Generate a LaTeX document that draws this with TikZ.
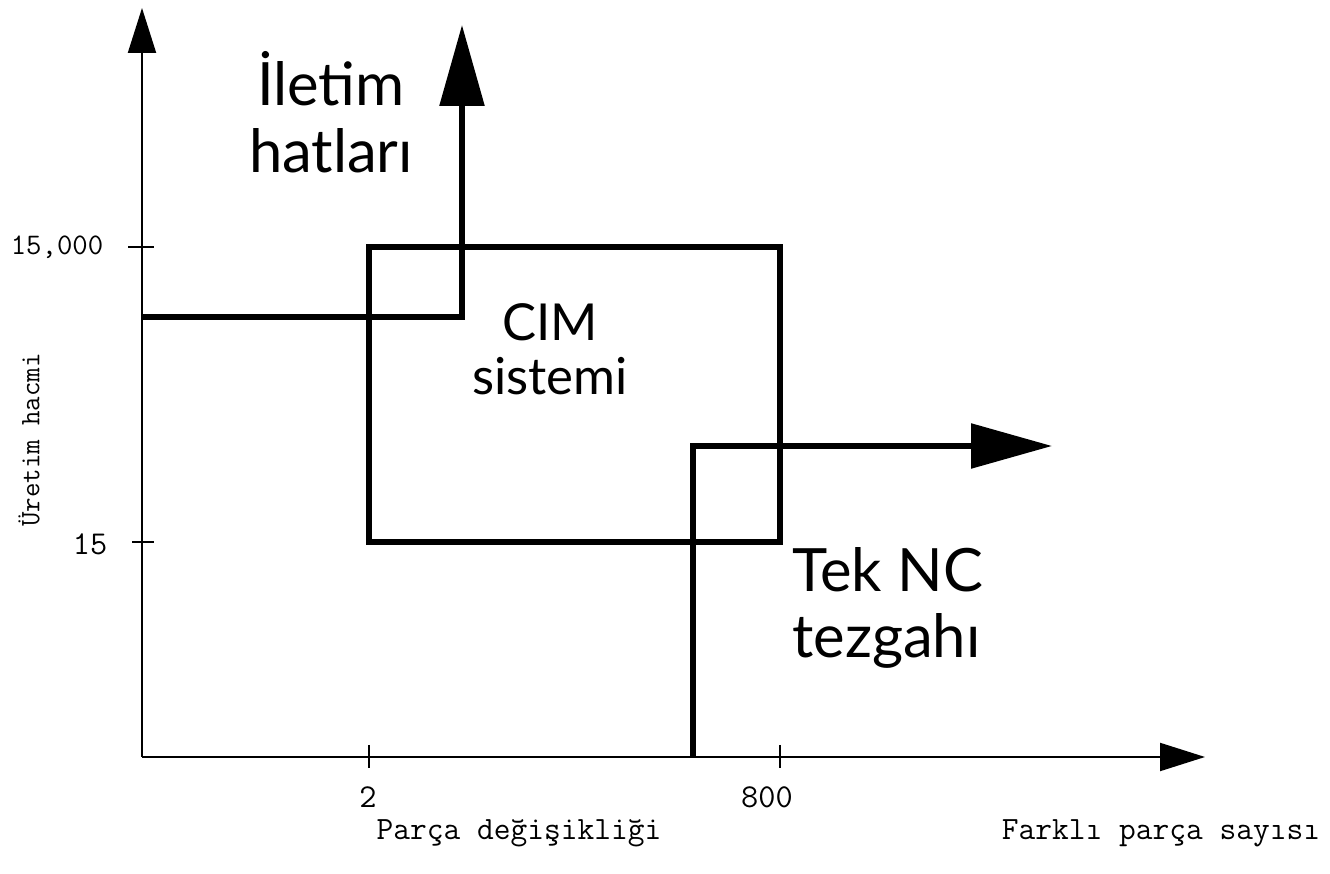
\documentclass[tikz,border=0pt]{standalone}
\usepackage{fontspec}
\newfontfamily\handfont{Lato}
\usetikzlibrary{arrows.meta}

\begin{document}
\begin{tikzpicture}[x=0.02cm, y=-0.02cm,
  axis/.style={line width=1.2pt, -{Triangle[length=0.9cm, width=0.56cm]}},
  tickmark/.style={line width=0.8pt},
  bar/.style={line width=3.2pt},
  route/.style={line width=3.2pt, -{Triangle[length=1.62cm, width=0.88cm]}},
  hand/.style={font=\handfont\fontsize{34}{38}\selectfont, align=center, inner sep=0pt},
  val/.style={font=\ttfamily\fontsize{18.5}{22}\selectfont, inner sep=0pt}
]
\useasboundingbox (0,0) rectangle (1330,874);

\coordinate (O) at (142,757);
\coordinate (ytip) at (142,8);
\coordinate (xtip) at (1205,757);
\draw[axis] (O) -- (ytip);
\draw[axis] (O) -- (xtip);

% ticks on both axes
\draw[tickmark] (128,247) -- (154,247);
\draw[tickmark] (132,542) -- (154,542);
\node[val, font=\ttfamily\fontsize{17}{20}\selectfont] (ylab1) at (57,247) {15,000};
\node[val, font=\ttfamily\fontsize{19}{22}\selectfont] (ylab2) at (90,544) {15};
\foreach \x/\lab/\cx [count=\i] in {369/2/368, 780/800/767} {
  \draw[tickmark] (\x,745) -- (\x,768);
  \node[val, font=\ttfamily\fontsize{19}{22}\selectfont] (xlab\i) at (\cx,797) {\lab};
}

\node[val, rotate=90, font=\ttfamily\fontsize{16}{18}\selectfont] (vol) at (29,440) {Üretim hacmi};
\node[val] (chg) at (519,833) {Parça değişikliği};
\node[val] (cnt) at (1161,833) {Farklı parça sayısı};

% CIM region
\coordinate (cimnw) at (369,247);
\coordinate (cimse) at (780,542);
\draw[bar] (cimnw) rectangle (cimse);
\node[hand, font=\handfont\fontsize{29}{31}\selectfont] (cim) at (550,349) {CIM\\sistemi};

% transfer lines
\coordinate (hat0) at (142,317);
\coordinate (hat1) at (462,25);
\draw[route] (hat0) -| (hat1);
\node[hand] (hat) at (331,112) {İletim\\hatları};

% single NC machine
\coordinate (nc0) at (693,757);
\coordinate (nc1) at (1052,446);
\draw[route] (nc0) |- (nc1);
\node[hand, align=left, anchor=west] (nc) at (792,608) {Tek NC\\tezgahı};
\end{tikzpicture}
\end{document}
